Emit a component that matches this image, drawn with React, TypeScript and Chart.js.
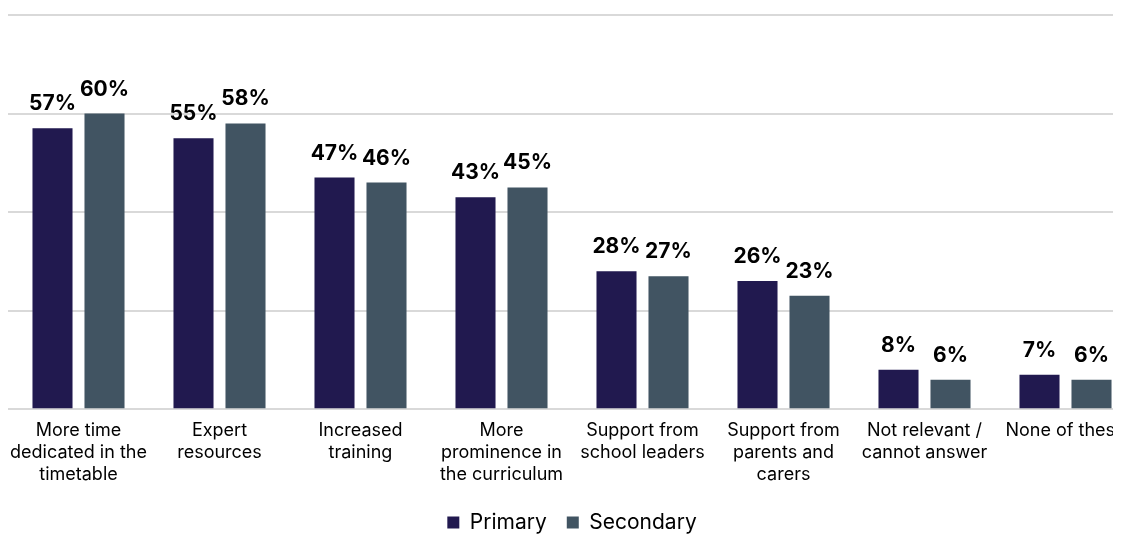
import React, { useEffect, useRef } from "react";
import { Chart, registerables } from "chart.js";

Chart.register(...registerables);

const categories: (string | string[])[] = [
  ["More time", "dedicated in the", "timetable"],
  ["Expert", "resources"],
  ["Increased", "training"],
  ["More", "prominence in", "the curriculum"],
  ["Support from", "school leaders"],
  ["Support from", "parents and", "carers"],
  ["Not relevant /", "cannot answer"],
  ["None of these"],
];
const primaryValues = [57, 55, 47, 43, 28, 26, 8, 7];
const secondaryValues = [60, 58, 46, 45, 27, 23, 6, 6];
const seriesNames = ["Primary", "Secondary"];
const yTicks = [0, 20, 40, 60, 80];

const FONT = "Inter, 'Noto Sans', sans-serif";

const labelPlugin = {
  id: "valueLabels",
  afterDatasetsDraw(chart: any) {
    const ctx = chart.ctx;
    ctx.save();
    ctx.font = `bold 21px ${FONT}`;
    ctx.fillStyle = "#000000";
    ctx.textAlign = "center";
    ctx.textBaseline = "alphabetic";
    chart.data.datasets.forEach((ds: any, i: number) => {
      const meta = chart.getDatasetMeta(i);
      meta.data.forEach((bar: any, j: number) => {
        ctx.fillText(`${ds.data[j]}%`, bar.x, bar.y - 18);
      });
    });
    ctx.restore();
  },
};

export default function App() {
  const ref = useRef<HTMLCanvasElement | null>(null);
  useEffect(() => {
    if (!ref.current) return;
    const chart = new Chart(ref.current, {
      type: "bar",
      data: {
        labels: categories,
        datasets: [
          {
            label: seriesNames[0],
            data: primaryValues,
            backgroundColor: "#21194f",
            categoryPercentage: 0.7376,
            barPercentage: 0.77,
          },
          {
            label: seriesNames[1],
            data: secondaryValues,
            backgroundColor: "#415462",
            categoryPercentage: 0.7376,
            barPercentage: 0.77,
          },
        ],
      },
      options: {
        animation: false,
        responsive: true,
        maintainAspectRatio: false,
        layout: { padding: { left: 0, right: 0, top: 7, bottom: 0 } },
        plugins: {
          tooltip: { enabled: false },
          legend: {
            position: "bottom",
            labels: {
              boxWidth: 12,
              boxHeight: 12,
              padding: 20,
              color: "#000000",
              font: { family: FONT, size: 21 },
            },
          },
        },
        scales: {
          x: {
            grid: { display: false },
            border: { display: false },
            afterFit: (scale: any) => {
              scale.height += 4;
              scale.paddingLeft = 0;
              scale.paddingRight = 0;
            },
            ticks: {
              color: "#000000",
              font: { family: FONT, size: 18, lineHeight: 1.2 },
              maxRotation: 0,
              autoSkip: false,
              padding: 3,
            },
          },
          y: {
            min: yTicks[0],
            max: yTicks[yTicks.length - 1],
            afterBuildTicks: (scale: any) => {
              scale.ticks = yTicks.map((v) => ({ value: v }));
            },
            grid: { color: "#d9d9d9", lineWidth: 2, drawTicks: false },
            border: { display: false },
            ticks: { display: false },
          },
        },
      },
      plugins: [labelPlugin],
    });
    return () => chart.destroy();
  }, []);
  return (
    <div style={{ width: 1113, height: 526, overflow: "hidden" }}>
      <div style={{ position: "relative", width: 1128, height: 535 }}>
        <canvas ref={ref} />
      </div>
    </div>
  );
}
